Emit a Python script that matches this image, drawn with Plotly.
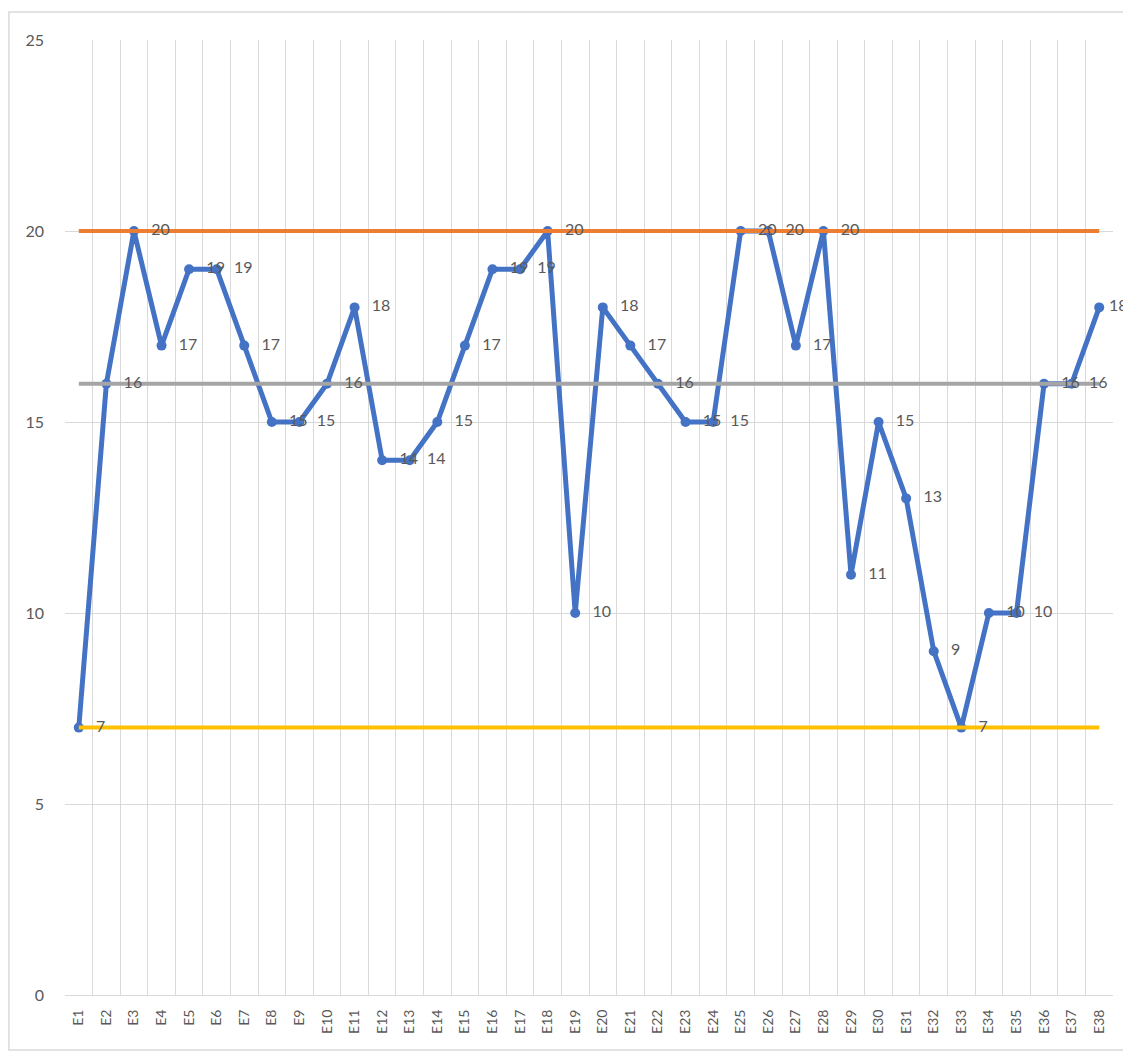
import plotly.graph_objects as go

categories = [f"E{i}" for i in range(1, 39)]
values = [7, 16, 20, 17, 19, 19, 17, 15, 15, 16, 18, 14, 14, 15, 17, 19, 19, 20, 10, 18,
          17, 16, 15, 15, 20, 20, 17, 20, 11, 15, 13, 9, 7, 10, 10, 16, 16, 18]
upper_limit = [20] * 38
mean_line = [16] * 38
lower_limit = [7] * 38

BLUE = "#4472C4"
ORANGE = "#ED7D31"
GRAY = "#A5A5A5"
YELLOW = "#FFC000"
TXT = "#595959"
FONT = "Lato, Liberation Sans, sans-serif"

fig = go.Figure()
fig.add_trace(go.Scatter(
    x=categories, y=values, mode="lines+markers",
    line=dict(color=BLUE, width=5),
    marker=dict(color=BLUE, size=10),
    hoverinfo="x+y", showlegend=False))
fig.add_trace(go.Scatter(x=categories, y=upper_limit, mode="lines",
                         line=dict(color=ORANGE, width=4), showlegend=False))
fig.add_trace(go.Scatter(x=categories, y=mean_line, mode="lines",
                         line=dict(color=GRAY, width=4), showlegend=False))
fig.add_trace(go.Scatter(x=categories, y=lower_limit, mode="lines",
                         line=dict(color=YELLOW, width=4), showlegend=False))
# data labels (invisible marker size only sets the label offset; last label sits closer to fit)
label_offsets = [26] * (len(values) - 1) + [14]
fig.add_trace(go.Scatter(
    x=categories, y=values, mode="markers+text",
    marker=dict(size=label_offsets, opacity=0),
    text=[str(v) for v in values], textposition="middle right",
    textfont=dict(color=TXT, size=16, family=FONT),
    cliponaxis=False, hoverinfo="skip", showlegend=False))

fig.update_layout(
    width=1131, height=1053,
    margin=dict(l=57, r=26, t=32, b=66),
    paper_bgcolor="white", plot_bgcolor="white",
    font=dict(family=FONT, color=TXT),
    shapes=[dict(type="rect", xref="paper", yref="paper",
                 x0=-0.0535, x1=1.05, y0=-0.0576, y1=1.0293,
                 line=dict(color="#D9D9D9", width=1.5), layer="below")],
)
fig.update_xaxes(
    type="category", range=[-0.5, 37.5],
    tickson="boundaries", showgrid=True, gridcolor="#D9D9D9", gridwidth=1,
    ticks="", tickangle=-90, tickfont=dict(size=14, color=TXT, family=FONT),
    ticklabelstandoff=8,
    showline=True, linecolor="#D9D9D9", zeroline=False)
fig.update_yaxes(
    range=[0, 25], tickvals=[0, 5, 10, 15, 20, 25],
    showgrid=True, gridcolor="#D9D9D9", gridwidth=1,
    zeroline=False, showline=False, ticks="",
    tickfont=dict(size=16, color=TXT, family=FONT), ticklabelstandoff=20)

fig.write_html("out.html")
